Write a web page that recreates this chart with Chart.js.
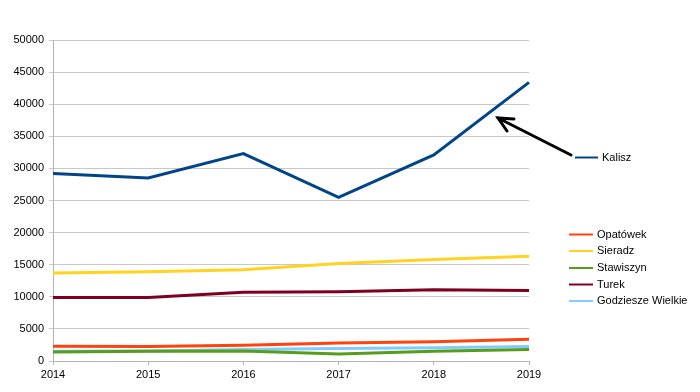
<!DOCTYPE html>
<html>
<head>
<meta charset="utf-8">
<script src="https://cdn.jsdelivr.net/npm/chart.js@4/dist/chart.umd.min.js"></script>
<style>
html,body{margin:0;padding:0;background:#fff;}
#wrap{position:relative;width:700px;height:392px;}
</style>
</head>
<body>
<div id="wrap"><canvas id="c" width="700" height="392"></canvas></div>
<script>
const years = ['2014','2015','2016','2017','2018','2019'];
const kalisz = [29200, 28500, 32300, 25500, 32100, 43400];
const opatowek = [2300, 2250, 2450, 2800, 3000, 3400];
const sieradz = [13700, 13900, 14200, 15200, 15800, 16300];
const stawiszyn = [1400, 1500, 1550, 1100, 1500, 1800];
const turek = [9900, 9900, 10700, 10800, 11100, 11000];
const godziesze = [1500, 1550, 1800, 1950, 2050, 2250];
const yTicks = [0,5000,10000,15000,20000,25000,30000,35000,40000,45000,50000];

const series = [
  {label:'Kalisz', data:kalisz, color:'#004586'},
  {label:'Opatówek', data:opatowek, color:'#ff420e'},
  {label:'Sieradz', data:sieradz, color:'#ffd320'},
  {label:'Stawiszyn', data:stawiszyn, color:'#579d1c'},
  {label:'Turek', data:turek, color:'#7e0021'},
  {label:'Godziesze Wielkie', data:godziesze, color:'#83caff'}
];
// draw order: Kalisz on top of others visually irrelevant; keep as in legend
const FONT = '"Liberation Sans", Arial, sans-serif';

const legendPlugin = {
  id:'customLegend',
  afterDraw(chart){
    const ctx = chart.ctx;
    ctx.save();
    ctx.font = '11px ' + FONT;
    ctx.textBaseline = 'middle';
    ctx.fillStyle = '#000';
    const ds = chart.data.datasets;
    // Kalisz legend entry
    ctx.strokeStyle = ds[0].borderColor; ctx.lineWidth = 2;
    ctx.beginPath(); ctx.moveTo(575,157.5); ctx.lineTo(598,157.5); ctx.stroke();
    ctx.fillText(ds[0].label, 602, 157.5);
    // arrow
    ctx.strokeStyle = '#000'; ctx.lineWidth = 3; ctx.lineCap='round';
    ctx.beginPath(); ctx.moveTo(571,155); ctx.lineTo(498,118); ctx.stroke();
    ctx.beginPath(); ctx.moveTo(514,119); ctx.lineTo(498,118); ctx.lineTo(507,131); ctx.stroke();
    // other entries
    const ys = [234.5, 251, 268, 284.5, 301];
    for (let i=1;i<ds.length;i++){
      const y = ys[i-1];
      ctx.strokeStyle = ds[i].borderColor; ctx.lineWidth = 2; ctx.lineCap='butt';
      ctx.beginPath(); ctx.moveTo(569,y); ctx.lineTo(593,y); ctx.stroke();
      ctx.fillText(ds[i].label, 597, y);
    }
    ctx.restore();
  }
};

new Chart(document.getElementById('c'), {
  type:'line',
  data:{
    labels: years,
    datasets: series.map(s=>({label:s.label, data:s.data, borderColor:s.color, backgroundColor:s.color, borderWidth:3, pointRadius:0, tension:0, fill:false}))
  },
  options:{
    responsive:false, animation:false,
    layout:{padding:{top:40, right:171, left:0, bottom:0}},
    plugins:{legend:{display:false}, tooltip:{enabled:false}},
    scales:{
      x:{
        offset:false,
        grid:{display:true, drawOnChartArea:false, color:'#b3b3b3', tickLength:4},
        border:{color:'#b3b3b3'},
        ticks:{color:'#000', font:{family:FONT, size:11}, padding:3, maxRotation:0},
        afterFit(s){ s.height = 31; }
      },
      y:{
        min:0, max:50000,
        afterBuildTicks(s){ s.ticks = yTicks.map(v=>({value:v})); },
        grid:{color:'#c8c8c8', tickLength:4},
        border:{color:'#b3b3b3'},
        ticks:{color:'#000', font:{family:FONT, size:11}, padding:5, callback:(v)=>String(v)},
        afterFit(s){ s.width = 53; }
      }
    }
  },
  plugins:[legendPlugin]
});
</script>
</body>
</html>
